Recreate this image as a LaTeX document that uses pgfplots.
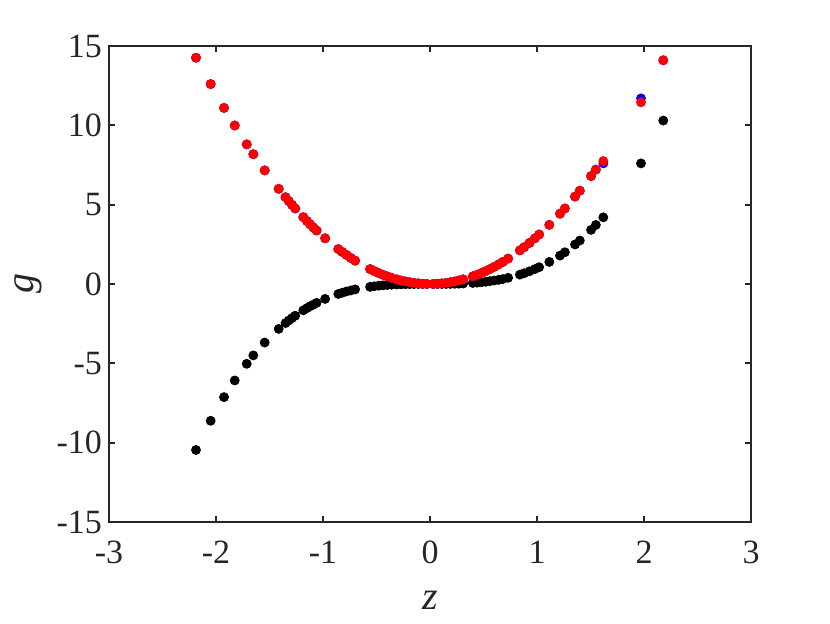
\documentclass[border=0pt]{standalone}
\usepackage{pgfplots}
\pgfplotsset{compat=1.18}
\usepackage{fontspec}
\setmainfont{Liberation Serif}
\definecolor{axgray}{RGB}{38,38,38}

% z, red (upper branch), blue (mostly hidden under red), black (lower branch)
\pgfplotstableread{
z       red    blue   black
-2.187  14.26  14.26  -10.46
-2.05   12.6   12.6   -8.62
-1.925  11.1   11.1   -7.13
-1.825  9.99   9.99   -6.08
-1.713  8.80   8.80   -5.03
-1.651  8.18   8.18   -4.50
-1.545  7.16   7.16   -3.69
-1.414  6.00   6.00   -2.83
-1.35   5.47   5.47   -2.46
-1.32   5.23   5.23   -2.30
-1.29   4.99   4.99   -2.15
-1.26   4.76   4.76   -2.00
-1.184  4.21   4.21   -1.66
-1.15   3.97   3.97   -1.52
-1.12   3.76   3.76   -1.40
-1.09   3.56   3.56   -1.30
-1.06   3.37   3.37   -1.19
-0.98   2.88   2.88   -0.94
-0.857  2.20   2.20   -0.63
-0.82   2.02   2.02   -0.55
-0.78   1.83   1.83   -0.47
-0.74   1.64   1.64   -0.41
-0.70   1.47   1.47   -0.34
-0.56   0.94   0.94   -0.18
-0.52   0.81   0.81   -0.14
-0.48   0.69   0.69   -0.11
-0.44   0.58   0.58   -0.085
-0.40   0.48   0.48   -0.064
-0.36   0.39   0.39   -0.047
-0.31   0.29   0.29   -0.030
-0.27   0.22   0.22   -0.020
-0.23   0.16   0.16   -0.012
-0.19   0.11   0.11   -0.007
-0.15   0.07   0.07   -0.003
-0.11   0.04   0.04   -0.001
-0.07   0.015  0.015  0
-0.03   0.003  0.003  0
0.03    0.003  0.003  0
0.07    0.015  0.015  0
0.11    0.04   0.04   0.001
0.15    0.07   0.07   0.003
0.19    0.11   0.11   0.007
0.23    0.16   0.16   0.012
0.27    0.22   0.22   0.020
0.31    0.29   0.29   0.030
0.40    0.48   0.48   0.064
0.44    0.58   0.58   0.085
0.48    0.69   0.69   0.11
0.52    0.81   0.81   0.14
0.56    0.94   0.94   0.18
0.60    1.08   1.08   0.22
0.64    1.23   1.23   0.26
0.68    1.39   1.39   0.31
0.73    1.60   1.60   0.39
0.84    2.12   2.12   0.59
0.88    2.32   2.32   0.68
0.93    2.59   2.59   0.80
0.98    2.88   2.88   0.94
1.02    3.12   3.12   1.06
1.115   3.73   3.73   1.39
1.215   4.43   4.43   1.79
1.26    4.76   4.76   2.00
1.355   5.51   5.51   2.49
1.40    5.88   5.88   2.74
1.505   6.80   6.80   3.41
1.55    7.21   7.21   3.72
1.62    7.75   7.60   4.20
1.972   11.45  11.70  7.60
2.18    14.10  14.10  10.30
}\gdata

\begin{document}
\begin{tikzpicture}
\begin{axis}[
    name=ax,
    scale only axis,
    width=321pt, height=238pt,
    xmin=-3, xmax=3, ymin=-15, ymax=15,
    xtick={-3,-2,...,3},
    ytick={-15,-10,...,15},
    tick align=inside,
    major tick length=3pt,
    axis line style={axgray, line width=1pt},
    every tick/.style={axgray, line width=1pt},
    /pgf/number format/assume math mode=true,
    tick label style={font=\fontsize{17}{20}\selectfont, text=axgray},
    xticklabel style={yshift=-6pt},
    every axis x label/.style={at={(axis description cs:0.5,-0.1639)}, anchor=center},
    every axis y label/.style={at={(axis description cs:-0.126,0.5)}, anchor=center, rotate=90},
    label style={font=\fontsize{20}{24}\selectfont, text=axgray},
    xlabel={\textit{z}},
    ylabel={\textit{g}},
    clip=false,
]
\addplot[only marks, mark=*, mark size=2.25pt, color=black] table[x=z, y=black] {\gdata};
\addplot[only marks, mark=*, mark size=2.25pt, color=blue] table[x=z, y=blue] {\gdata};
\addplot[only marks, mark=*, mark size=2.25pt, color=red] table[x=z, y=red] {\gdata};
\end{axis}
\path ([xshift=-54.5pt, yshift=-50.5pt]ax.south west) rectangle ([xshift=39.5pt, yshift=23pt]ax.north east);
\end{tikzpicture}
\end{document}
